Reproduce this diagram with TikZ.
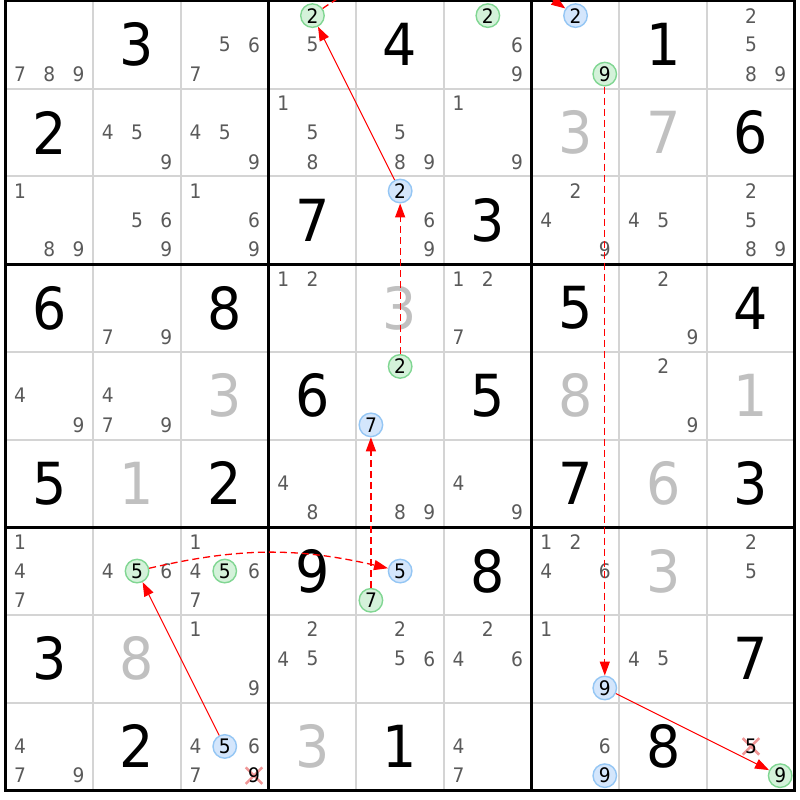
\documentclass[tikz,border=0pt]{standalone}
\usepackage{fontspec}
\setmainfont{DejaVu Sans}[FakeStretch=0.93]
\usetikzlibrary{arrows.meta,shapes.misc}
\definecolor{candgray}{RGB}{90,90,90}
\definecolor{solvgray}{RGB}{192,192,192}
\definecolor{gridgray}{RGB}{212,212,212}
\definecolor{greenf}{RGB}{212,242,218}
\definecolor{greenb}{RGB}{128,214,146}
\definecolor{bluef}{RGB}{212,230,252}
\definecolor{blueb}{RGB}{148,198,244}
\definecolor{xpink}{RGB}{240,150,150}
\newcommand\Gpos[2]{({5.5+87.7*(#2+0.5)},{-1-87.7*(#1+0.5)})}
\newcommand\Cpos[3]{({5.5+87.7*#2+29.2333*(mod(#3-1,3)+0.5)},{-1-87.7*#1-29.2333*(floor((#3-1)/3)+0.5)})}
\newcommand\Given[3]{\node[givenst] (g#1c#2) at \Gpos{#1}{#2} {#3};}
\newcommand\Solved[3]{\node[solvedst] (s#1c#2) at \Gpos{#1}{#2} {#3};}
\newcommand\Cands[3]{\foreach \d in {#3}{\node[cand] (r#1c#2d\d) at \Cpos{#1}{#2}{\d} {\d};}}
\newcommand\Circ[4]{\node[cand,#4] (r#1c#2d#3) at \Cpos{#1}{#2}{#3} {#3};}
\newcommand\Elim[3]{\node[elimx] (x#1c#2d#3) at \Cpos{#1}{#2}{#3} {};\node[cand,text=black] (r#1c#2d#3) at \Cpos{#1}{#2}{#3} {#3};}
\begin{document}
\begin{tikzpicture}[x=1pt,y=1pt,
  cand/.style={text=candgray,font=\fontsize{20}{20}\selectfont,inner sep=0pt},
  givenst/.style={text=black,font=\fontsize{58}{58}\selectfont,inner sep=0pt},
  solvedst/.style={text=solvgray,font=\fontsize{58}{58}\selectfont,inner sep=0pt},
  gc/.style={circle,draw=greenb,fill=greenf,line width=1.4pt,minimum size=23.5pt,inner sep=0pt,text=black},
  bc/.style={circle,draw=blueb,fill=bluef,line width=1.4pt,minimum size=23.5pt,inner sep=0pt,text=black},
  elimx/.style={cross out,draw=xpink,line width=2.5pt,minimum size=14pt,inner sep=0pt},
  thinline/.style={draw=gridgray,line width=2pt},
  thickline/.style={draw=black,line width=3pt},
  arr/.style={draw=red,line width=1pt,-{Triangle[length=14pt,width=10pt]}},
  darr/.style={arr,line width=1.3pt,dash pattern=on 7pt off 4pt},
]
\useasboundingbox (0,0) rectangle (800,-800);
\fill[white] (0,0) rectangle (800,-800);
\clip (0,0) rectangle (800,-800);
% grid
\foreach \i in {1,2,4,5,7,8}{
  \draw[thinline] ({5.5+87.7*\i},-1) -- ({5.5+87.7*\i},{-1-87.7*9});
  \draw[thinline] (5.5,{-1-87.7*\i}) -- ({5.5+87.7*9},{-1-87.7*\i});
}
\foreach \i in {0,3,6,9}{
  \draw[thickline] ({5.5+87.7*\i},{-1+1.5}) -- ({5.5+87.7*\i},{-1-87.7*9-1.5});
  \draw[thickline] ({5.5-1.5},{-1-87.7*\i}) -- ({5.5+87.7*9+1.5},{-1-87.7*\i});
}
% givens
\Given{0}{1}{3}\Given{0}{4}{4}\Given{0}{7}{1}
\Given{1}{0}{2}\Given{1}{8}{6}
\Given{2}{3}{7}\Given{2}{5}{3}
\Given{3}{0}{6}\Given{3}{2}{8}\Given{3}{6}{5}\Given{3}{8}{4}
\Given{4}{3}{6}\Given{4}{5}{5}
\Given{5}{0}{5}\Given{5}{2}{2}\Given{5}{6}{7}\Given{5}{8}{3}
\Given{6}{3}{9}\Given{6}{5}{8}
\Given{7}{0}{3}\Given{7}{8}{7}
\Given{8}{1}{2}\Given{8}{4}{1}\Given{8}{7}{8}
% solved
\Solved{1}{6}{3}\Solved{1}{7}{7}
\Solved{3}{4}{3}
\Solved{4}{2}{3}\Solved{4}{6}{8}\Solved{4}{8}{1}
\Solved{5}{1}{1}\Solved{5}{7}{6}
\Solved{6}{7}{3}
\Solved{7}{1}{8}
\Solved{8}{3}{3}
% candidates
\Cands{0}{0}{7,8,9}\Cands{0}{2}{5,6,7}\Cands{0}{3}{5}\Cands{0}{5}{6,9}\Cands{0}{8}{2,5,8,9}
\Circ{0}{3}{2}{gc}\Circ{0}{5}{2}{gc}\Circ{0}{6}{2}{bc}\Circ{0}{6}{9}{gc}
\Cands{1}{1}{4,5,9}\Cands{1}{2}{4,5,9}\Cands{1}{3}{1,5,8}\Cands{1}{4}{5,8,9}\Cands{1}{5}{1,9}
\Cands{2}{0}{1,8,9}\Cands{2}{1}{5,6,9}\Cands{2}{2}{1,6,9}\Cands{2}{4}{6,9}\Circ{2}{4}{2}{bc}
\Cands{2}{6}{2,4,9}\Cands{2}{7}{4,5}\Cands{2}{8}{2,5,8,9}
\Cands{3}{1}{7,9}\Cands{3}{3}{1,2}\Cands{3}{5}{1,2,7}\Cands{3}{7}{2,9}
\Cands{4}{0}{4,9}\Cands{4}{1}{4,7,9}\Circ{4}{4}{2}{gc}\Circ{4}{4}{7}{bc}\Cands{4}{7}{2,9}
\Cands{5}{3}{4,8}\Cands{5}{4}{8,9}\Cands{5}{5}{4,9}
\Cands{6}{0}{1,4,7}\Cands{6}{1}{4,6}\Circ{6}{1}{5}{gc}\Cands{6}{2}{1,4,6,7}\Circ{6}{2}{5}{gc}
\Circ{6}{4}{5}{bc}\Circ{6}{4}{7}{gc}\Cands{6}{6}{1,2,4,6}\Cands{6}{8}{2,5}
\Cands{7}{2}{1,9}\Cands{7}{3}{2,4,5}\Cands{7}{4}{2,5,6}\Cands{7}{5}{2,4,6}
\Cands{7}{6}{1}\Circ{7}{6}{9}{bc}\Cands{7}{7}{4,5}
\Cands{8}{0}{4,7,9}\Cands{8}{2}{4,6,7}\Circ{8}{2}{5}{bc}\Elim{8}{2}{9}
\Cands{8}{5}{4,7}\Cands{8}{6}{6}\Circ{8}{6}{9}{bc}
\Elim{8}{8}{5}\Circ{8}{8}{9}{gc}
% links
\draw[darr] (r0c3d2) to[out=35,in=145] (r0c6d2);
\draw[arr] (r2c4d2) -- (r0c3d2);
\draw[darr] (r4c4d2) -- (r2c4d2);
\draw[darr] (r6c4d7) -- (r4c4d7);
\draw[darr] (r6c1d5) to[bend left=13] (r6c4d5);
\draw[arr] (r8c2d5) -- (r6c1d5);
\draw[darr] (r0c6d9) -- (r7c6d9);
\draw[arr] (r7c6d9) -- (r8c8d9);
\end{tikzpicture}
\end{document}
